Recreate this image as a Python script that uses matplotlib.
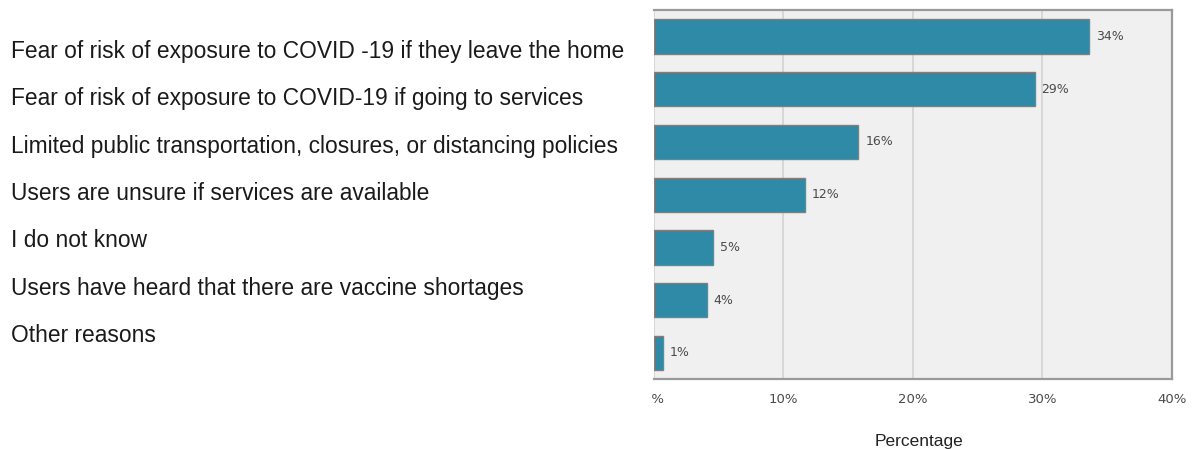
import matplotlib
matplotlib.use("Agg")
import matplotlib.pyplot as plt
from matplotlib.patches import Rectangle

# reasons, in the order they are listed down the page
reasons = [
    "Fear of risk of exposure to COVID -19 if they leave the home",
    "Fear of risk of exposure to COVID-19 if going to services",
    "Limited public transportation, closures, or distancing policies",
    "Users are unsure if services are available",
    "I do not know",
    "Users have heard that there are vaccine shortages",
    "Other reasons",
]
# share of respondents (%)
shares = [33.6, 29.4, 15.8, 11.7, 4.6, 4.1, 0.7]
xticks = [0, 10, 20, 30, 40]

W, H = 1199, 449
fig = plt.figure(figsize=(W / 100, H / 100), dpi=100)
fig.patch.set_facecolor("white")

ax = fig.add_axes([653.5 / W, 1 - 379.3 / H, (1172 - 653.5) / W, (379.3 - 9.5) / H])
ax.set_facecolor("#f0f0f0")

pos = list(range(len(shares)))
ax.barh(pos, shares, height=0.65, color="#2e8aa6", edgecolor="#7f7f7f", linewidth=1.0, zorder=3)
for p, v in zip(pos, shares):
    ax.annotate(f"{round(v)}%", (v, p), xytext=(5, 0), textcoords="offset points",
                va="center", ha="left", fontsize=9, color="#4a4a4a", zorder=4)

ax.set_xlim(0, 40)
ax.set_ylim(6.5, -0.51)
ax.set_xticks(xticks)
ax.set_xticklabels([f"{t}%" for t in xticks], fontsize=9.5, color="#4a4a4a")
ax.tick_params(axis="x", length=0, pad=10)
ax.set_yticks([])
ax.grid(axis="x", color="#d2d2d2", linewidth=1.2, zorder=0)
ax.set_axisbelow(True)

for side in ["top", "bottom", "right"]:
    ax.spines[side].set_color("#9a9a9a")
    ax.spines[side].set_linewidth(1.6)
ax.spines["left"].set_visible(False)

ax.text(0.512, -0.180, "Percentage", transform=ax.transAxes, family="Liberation Sans",
        fontsize=12.5, color="#222222", ha="center", va="baseline")

# blank out the left part of the axis strip (the 0% label is clipped)
fig.add_artist(Rectangle((0, 0), 652 / W, 1 - 382 / H, transform=fig.transFigure,
                         facecolor="white", edgecolor="none", zorder=10))

# reason list on the left
for i, r in enumerate(reasons):
    fig.text(11 / W, 1 - (58 + 47.3 * i) / H, r, family="Liberation Sans",
             fontsize=16.4, color="#1a1a1a", va="baseline", ha="left")

fig.savefig("out.png", dpi=100)
